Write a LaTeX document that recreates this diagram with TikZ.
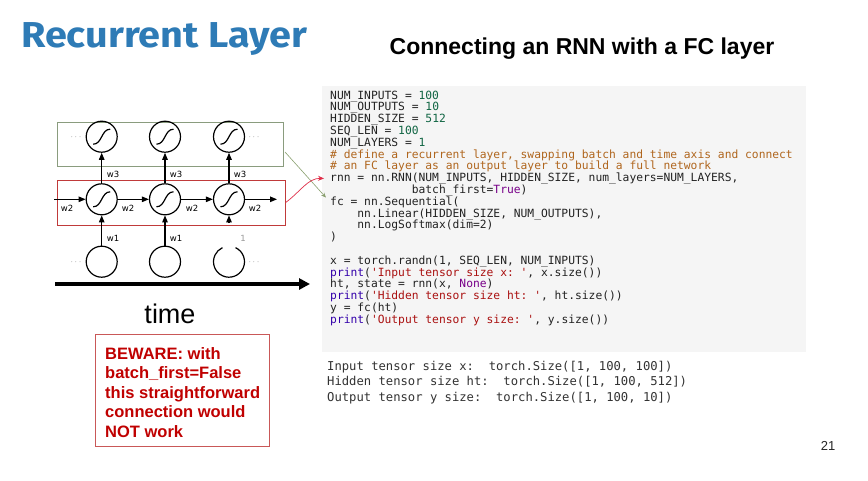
\documentclass[tikz,border=0pt]{standalone}
\usepackage{fontspec}
\setmainfont{Liberation Sans}
\setmonofont{DejaVu Sans Mono}
\newfontfamily\titlefont{Fira Sans}
\newfontfamily\dvs{DejaVu Sans}
\usetikzlibrary{arrows.meta}
\definecolor{titleblue}{HTML}{2E7BB6}
\definecolor{num}{HTML}{116644}
\definecolor{str}{HTML}{AA1111}
\definecolor{cmt}{HTML}{B0661E}
\definecolor{bltn}{HTML}{3300AA}
\definecolor{kw}{HTML}{770088}
\definecolor{codetxt}{HTML}{222222}
\definecolor{codebg}{HTML}{F5F5F5}
\definecolor{boxgreen}{HTML}{8A9C7E}
\definecolor{boxred}{HTML}{C03A3A}
\definecolor{warnred}{HTML}{C00000}
\definecolor{linkgreen}{HTML}{8AA070}
\definecolor{linkred}{HTML}{E0304A}
\newcommand\sq{\textquotesingle}
\newcommand\codeline[2]{\node[code] (c#1) at (330,{99+11.8*#1}) {#2};}
\begin{document}
\begin{tikzpicture}[x=1pt,y=-1pt,
  code/.style={anchor=base west, inner sep=0pt, text=codetxt, font=\ttfamily\fontsize{11.3}{13}\selectfont},
  outline/.style={anchor=base west, inner sep=0pt, text=black!80, font=\ttfamily\fontsize{12.2}{14}\selectfont},
  neuron/.style={circle, draw, line width=1.2pt, minimum size=31pt, inner sep=0pt},
  sig/.style={line width=1.2pt},
  arr/.style={line width=1.1pt, -{Triangle[length=7pt,width=5.5pt]}},
  wlab/.style={font=\dvs\fontsize{8.5}{9}\selectfont, inner sep=0pt},
  dots/.style={font=\fontsize{9}{9}\selectfont, text=black!50, inner sep=0pt},
  warn/.style={anchor=base west, inner sep=0pt, text=warnred, font=\bfseries\fontsize{16.5}{19}\selectfont}
]
\useasboundingbox (0,0) rectangle (868,480);
\fill[white] (0,0) rectangle (868,480);

% titles
\node[anchor=base west, inner sep=0pt, text=titleblue, font=\titlefont\bfseries\fontsize{36}{40}\selectfont] (title) at (21,47) {\scalebox{1.1}[1]{Recurrent Layer}};
\node[anchor=base, inner sep=0pt, font=\bfseries\fontsize{23}{26}\selectfont] (subtitle) at (582,54) {Connecting an RNN with a FC layer};

% code box
\fill[codebg] (322,86) rectangle (806,352);
\codeline{0}{NUM\_INPUTS = \textcolor{num}{100}}
\codeline{1}{NUM\_OUTPUTS = \textcolor{num}{10}}
\codeline{2}{HIDDEN\_SIZE = \textcolor{num}{512}}
\codeline{3}{SEQ\_LEN = \textcolor{num}{100}}
\codeline{4}{NUM\_LAYERS = \textcolor{num}{1}}
\codeline{5}{\textcolor{cmt}{\# define a recurrent layer, swapping batch and time axis and connect}}
\codeline{6}{\textcolor{cmt}{\# an FC layer as an output layer to build a full network}}
\codeline{7}{rnn = nn.RNN(NUM\_INPUTS, HIDDEN\_SIZE, num\_layers=NUM\_LAYERS,}
\codeline{8}{~~~~~~~~~~~~batch\_first=\textcolor{kw}{True})}
\codeline{9}{fc = nn.Sequential(}
\codeline{10}{~~~~nn.Linear(HIDDEN\_SIZE, NUM\_OUTPUTS),}
\codeline{11}{~~~~nn.LogSoftmax(dim=2)}
\codeline{12}{)}
\codeline{14}{x = torch.randn(1, SEQ\_LEN, NUM\_INPUTS)}
\codeline{15}{\textcolor{bltn}{print}(\textcolor{str}{\sq Input tensor size x: \sq}, x.size())}
\codeline{16}{ht, state = rnn(x, \textcolor{kw}{None})}
\codeline{17}{\textcolor{bltn}{print}(\textcolor{str}{\sq Hidden tensor size ht: \sq}, ht.size())}
\codeline{18}{y = fc(ht)}
\codeline{19}{\textcolor{bltn}{print}(\textcolor{str}{\sq Output tensor y size: \sq}, y.size())}

% output
\node[outline] (o1) at (327,370) {Input tensor size x:~~torch.Size([1, 100, 100])};
\node[outline] (o2) at (327,385.5) {Hidden tensor size ht:~~torch.Size([1, 100, 512])};
\node[outline] (o3) at (327,401) {Output tensor y size:~~torch.Size([1, 100, 10])};

% layer boxes
\node[draw=boxgreen, line width=0.8pt, minimum width=226pt, minimum height=44.5pt, anchor=north west, inner sep=0pt] (gbox) at (57,121.5) {};
\node[draw=boxred, line width=0.8pt, minimum width=228pt, minimum height=45pt, anchor=north west, inner sep=0pt] (rbox) at (57,179.5) {};

% neurons
\foreach \i/\x in {1/101.7,2/165,3/229}{
  \node[neuron] (t\i) at (\x,136.7) {};
  \node[neuron] (m\i) at (\x,199.3) {};
}
\node[neuron] (b1) at (101.7,261.7) {};
\node[neuron] (b2) at (165,261.7) {};
\node[circle, minimum size=31pt, inner sep=0pt] (b3) at (229,261.7) {};
\draw[line width=1.2pt] ([shift={(-65:15.5)}]b3.center) arc[start angle=-65, end angle=245, radius=15.5];

% sigmoids
\foreach \n in {t1,t2,t3,m1,m2,m3}{
  \draw[sig] ([shift={(-8.5,7.5)}]\n.center) .. controls ([shift={(0.5,7.5)}]\n.center) and ([shift={(-0.5,-7.5)}]\n.center) .. ([shift={(8.5,-7.5)}]\n.center);
}

% dots
\node[dots] (d1) at (76,137) {$\cdots$};
\node[dots] (d2) at (254,137) {$\cdots$};
\node[dots] (d3) at (76,262) {$\cdots$};
\node[dots] (d4) at (254,262) {$\cdots$};

% arrows
\foreach \i in {1,2,3}{ \draw[arr] (m\i) -- (t\i); }
\draw[arr] (b1) -- (m1);
\draw[arr] (b2) -- (m2);
\coordinate (s3) at (229,223);
\draw[arr] (s3) -- (m3.south);
\coordinate (hin) at (54,199.3);
\coordinate (hout) at (277,199.3);
\draw[arr] (hin) -- (m1);
\draw[arr] (m1) -- (m2);
\draw[arr] (m2) -- (m3);
\draw[arr] (m3) -- (hout);

% weight labels
\foreach \x in {113,176,240}{ \node[wlab] at (\x,174) {w3}; }
\foreach \x in {67,128,192,255}{ \node[wlab] at (\x,208) {w2}; }
\node[wlab] (l1) at (113,238) {w1};
\node[wlab] (l2) at (176,238) {w1};
\node[wlab, text=black!40] (l3) at (243,238) {1};

% time axis
\coordinate (ta) at (55,284);
\coordinate (tb) at (310,284);
\draw[line width=4pt, -{Triangle[length=11pt,width=11pt]}] (ta) -- (tb);
\node[anchor=base, inner sep=0pt, font=\fontsize{27}{30}\selectfont] (time) at (170,323.5) {time};

% warning box
\draw[draw=boxred!85, line width=0.8pt] (95,334.5) rectangle (269,446.5);
\node[warn] (w1) at (105,359.3) {BEWARE: with};
\node[warn] (w2) at (105,378.8) {batch\_first=False};
\node[warn] (w3) at (105,398.3) {this straightforward};
\node[warn] (w4) at (105,417.8) {connection would};
\node[warn] (w5) at (105,437.3) {NOT work};

% connectors
\coordinate (gs) at (285,152);
\draw[linkgreen, line width=0.6pt, -{Stealth[length=5pt,width=4pt]}, shorten >=6pt] (gs) -- (c9.west);
\draw[linkred, line width=0.7pt, -{Stealth[length=6pt,width=5pt]}, shorten >=6pt] (rbox.east) .. controls (300,192) and (308,178) .. (c7.west);

% page number
\node[anchor=base, inner sep=0pt, font=\fontsize{13}{15}\selectfont, text=black!85] (pg) at (828,450) {21};
\end{tikzpicture}
\end{document}
